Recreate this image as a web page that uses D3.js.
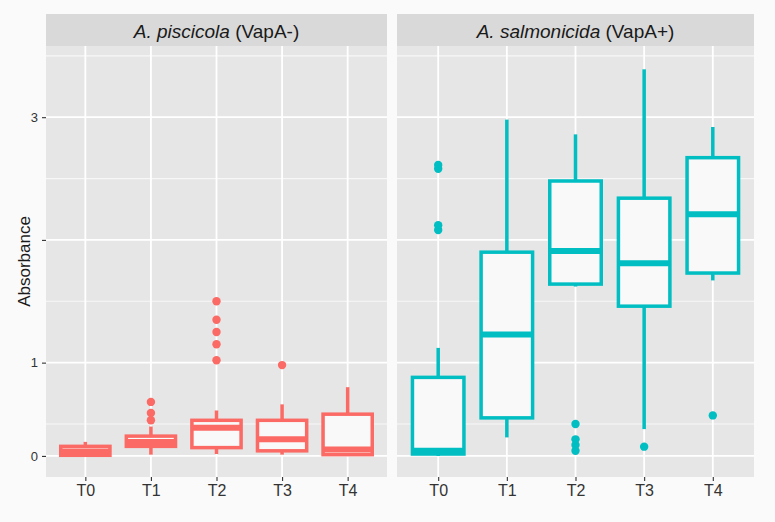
<!DOCTYPE html>
<html>
<head>
<meta charset="utf-8">
<script src="https://cdn.jsdelivr.net/npm/d3@7"></script>
<style>
  body { margin: 0; background: #FAFAFA; }
  svg { display: block; font-family: "Liberation Sans", Arial, sans-serif; }
</style>
</head>
<body>
<svg id="chart" width="775" height="522"></svg>
<script>
// ---- data ----
const categories = ["T0", "T1", "T2", "T3", "T4"];
const panelSpecies = ["A. piscicola", "A. salmonicida"];
const panelTags = ["(VapA-)", "(VapA+)"];
const panelColors = ["#FB6A64", "#00BEC2"];

// A. piscicola (VapA-)
const piscLow    = [0.00, 0.02, 0.03, 0.02, 0.00];
const piscQ1     = [0.01, 0.15, 0.13, 0.08, 0.02];
const piscMedian = [0.07, 0.22, 0.44, 0.26, 0.10];
const piscQ3     = [0.15, 0.31, 0.53, 0.53, 0.58];
const piscHigh   = [0.22, 0.46, 0.61, 0.66, 0.80];
const piscOutliers = [[], [0.53, 0.59, 0.68], [1.02, 1.15, 1.25, 1.35, 1.50], [0.98], []];

// A. salmonicida (VapA+)
const salmLow    = [0.00, 0.29, 1.62, 0.42, 1.67];
const salmQ1     = [0.03, 0.55, 1.64, 1.46, 1.73];
const salmMedian = [0.08, 1.23, 1.91, 1.81, 2.21];
const salmQ3     = [0.88, 1.90, 2.48, 2.34, 2.67];
const salmHigh   = [1.12, 2.98, 2.86, 3.39, 2.92];
const salmOutliers = [[2.08, 2.12, 2.58, 2.61], [], [0.08, 0.17, 0.26, 0.50], [0.145], [0.57]];

const yTicks = [0, 1, 2, 3];
const yTickLabels = ["0", "1", "", "3"];
const yMinor = [0.5, 1.5, 2.5, 3.5];
const yTitle = "Absorbance";

// ---- build per-panel tables ----
function rows(lo, q1, md, q3, hi, out) {
  return categories.map((c, i) => ({ cat: c, lo: lo[i], q1: q1[i], med: md[i], q3: q3[i], hi: hi[i], out: out[i] }));
}
const panelData = [
  rows(piscLow, piscQ1, piscMedian, piscQ3, piscHigh, piscOutliers),
  rows(salmLow, salmQ1, salmMedian, salmQ3, salmHigh, salmOutliers)
];

// ---- layout ----
const svg = d3.select("#chart");
const panelTop = 46, panelBottom = 477, stripTop = 14;
const panelX = [[46, 387], [397, 754]];

// piecewise-linear y scale (the reference axis is compressed between 0 and 0.5)
const y = d3.scaleLinear()
  .domain([-0.33, 0.5, 3.58])
  .range([panelBottom, 424, panelTop]);

panelData.forEach((data, p) => {
  const [x0, x1] = panelX[p];
  const x = d3.scalePoint().domain(categories).range([x0, x1]).padding(0.6);
  const bw = x.step() * 0.75;
  const col = panelColors[p];
  const g = svg.append("g");

  // panel background
  g.append("rect").attr("x", x0).attr("y", panelTop).attr("width", x1 - x0)
    .attr("height", panelBottom - panelTop).attr("fill", "#E6E6E6");

  // grid
  g.selectAll(".minor").data(yMinor).join("line")
    .attr("x1", x0).attr("x2", x1).attr("y1", d => y(d)).attr("y2", d => y(d))
    .attr("stroke", "#F7F7F7").attr("stroke-width", 1.2);
  g.selectAll(".major").data(yTicks).join("line")
    .attr("x1", x0).attr("x2", x1).attr("y1", d => y(d)).attr("y2", d => y(d))
    .attr("stroke", "#FFFFFF").attr("stroke-width", 1.8);
  g.selectAll(".vgrid").data(categories).join("line")
    .attr("x1", d => x(d)).attr("x2", d => x(d)).attr("y1", panelTop).attr("y2", panelBottom)
    .attr("stroke", "#FFFFFF").attr("stroke-width", 1.8);

  // strip
  g.append("rect").attr("x", x0).attr("y", stripTop).attr("width", x1 - x0)
    .attr("height", panelTop - stripTop).attr("fill", "#D9D9D9");
  const st = g.append("text").attr("x", (x0 + x1) / 2).attr("y", 38)
    .attr("text-anchor", "middle").attr("font-size", 19).attr("fill", "#1A1A1A");
  st.append("tspan").attr("font-style", "italic").text(panelSpecies[p]);
  st.append("tspan").text(" " + panelTags[p]);

  // boxes
  const sw = 3.5;
  const box = g.selectAll(".box").data(data).join("g");
  box.append("line")
    .attr("x1", d => x(d.cat)).attr("x2", d => x(d.cat))
    .attr("y1", d => y(d.q3)).attr("y2", d => y(d.hi))
    .attr("stroke", col).attr("stroke-width", sw);
  box.append("line")
    .attr("x1", d => x(d.cat)).attr("x2", d => x(d.cat))
    .attr("y1", d => y(d.q1)).attr("y2", d => y(d.lo))
    .attr("stroke", col).attr("stroke-width", sw);
  box.append("rect")
    .attr("x", d => x(d.cat) - bw / 2).attr("width", bw)
    .attr("y", d => y(d.q3)).attr("height", d => y(d.q1) - y(d.q3))
    .attr("fill", "#F9F9F9").attr("stroke", col).attr("stroke-width", sw);
  box.append("line")
    .attr("x1", d => x(d.cat) - bw / 2).attr("x2", d => x(d.cat) + bw / 2)
    .attr("y1", d => y(d.med)).attr("y2", d => y(d.med))
    .attr("stroke", col).attr("stroke-width", 6);
  box.selectAll("circle").data(d => d.out.map(v => ({ cat: d.cat, v }))).join("circle")
    .attr("cx", d => x(d.cat)).attr("cy", d => y(d.v)).attr("r", 4.2)
    .attr("fill", col);

  // x axis
  const xa = g.append("g").attr("transform", `translate(0,${panelBottom})`)
    .call(d3.axisBottom(x).tickSize(4).tickPadding(4));
  xa.select(".domain").remove();
  xa.selectAll(".tick line").attr("stroke", "#333333").attr("stroke-width", 1.1);
  xa.selectAll(".tick text").attr("font-size", 16).attr("fill", "#333333")
    .attr("font-family", "Liberation Sans, Arial, sans-serif");
});

// y axis
const ya = svg.append("g").attr("transform", `translate(${panelX[0][0]},0)`)
  .call(d3.axisLeft(y).tickValues(yTicks).tickFormat((d, i) => yTickLabels[i]).tickSize(4).tickPadding(4));
ya.select(".domain").remove();
ya.selectAll(".tick line").attr("stroke", "#333333").attr("stroke-width", 1.1);
ya.selectAll(".tick text").attr("font-size", 13).attr("fill", "#333333")
  .attr("font-family", "Liberation Sans, Arial, sans-serif");

svg.append("text")
  .attr("transform", `translate(30,${(panelTop + panelBottom) / 2}) rotate(-90)`)
  .attr("text-anchor", "middle").attr("font-size", 17).attr("fill", "#1A1A1A")
  .text(yTitle);
</script>
</body>
</html>
